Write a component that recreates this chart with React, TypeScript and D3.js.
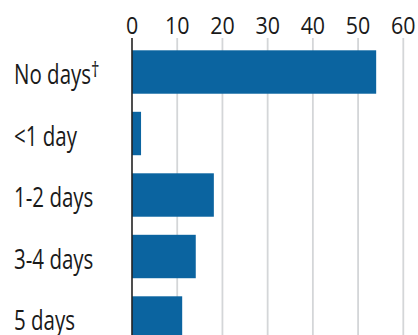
import React from "react";
import * as d3 from "d3";

const categories = ["No days†", "<1 day", "1-2 days", "3-4 days", "5 days"];
const values = [54.0, 2.0, 18.1, 14.1, 11.1];
const ticks = [0, 10, 20, 30, 40, 50, 60];

const W = 418;
const H = 335;

export default function App() {
  const x = d3.scaleLinear().domain([0, 60]).range([132, 403.3]);
  const y = d3
    .scaleBand<string>()
    .domain(categories)
    .range([50.3, 50.3 + 61.5 * (categories.length - 0.294)])
    .paddingInner(0.294)
    .paddingOuter(0);

  const font = "'Open Sans', 'Noto Sans', sans-serif";

  return (
    <svg
      width={W}
      height={H}
      style={{ position: "absolute", left: 0, top: 0, background: "#fff" }}
    >
      <rect width={W} height={H} fill="#fff" />
      {ticks.map((t) => (
        <g key={t}>
          {t !== 0 && (
            <line
              x1={x(t)}
              x2={x(t)}
              y1={38}
              y2={H}
              stroke="#d4d6d8"
              strokeWidth={1.8}
            />
          )}
          <text
            transform={`translate(${x(t)},34.3) scale(0.9,1)`}
            textAnchor="middle"
            fontFamily={font}
            fontSize={23.8}
            fill="#1a1a1a"
          >
            {t}
          </text>
        </g>
      ))}
      {categories.map((c, i) => (
        <rect
          key={c}
          x={x(0)}
          y={y(c)}
          width={x(values[i]) - x(0)}
          height={y.bandwidth()}
          fill="#0b64a0"
        />
      ))}
      <line
        x1={x(0)}
        x2={x(0)}
        y1={38}
        y2={H}
        stroke="#222"
        strokeWidth={1.6}
      />
      {categories.map((c) => {
        const label = c.replace("†", "");
        const dag = c.includes("†");
        return (
          <text
            key={c}
            transform={`translate(14,${(y(c) as number) + y.bandwidth() / 2 + 12}) scale(0.76,1)`}
            fontFamily={font}
            fontSize={27}
            fill="#1a1a1a"
          >
            {label}
            {dag && (
              <tspan fontSize={22} dy={-7}>
                †
              </tspan>
            )}
          </text>
        );
      })}
    </svg>
  );
}
